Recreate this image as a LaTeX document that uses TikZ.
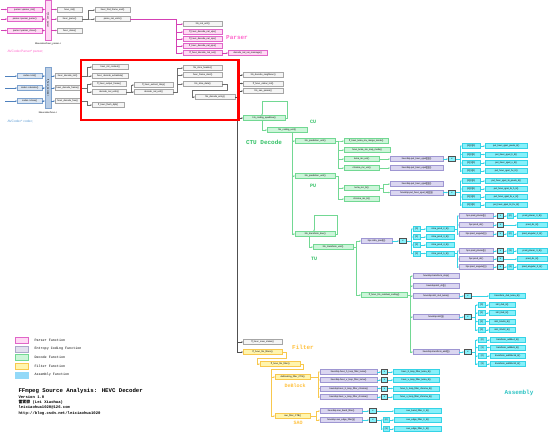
\documentclass[tikz,border=0pt]{standalone}
\usepackage{fontspec}
\setmainfont{Liberation Sans}
\newfontfamily\monof{Liberation Mono}
\newfontfamily\cjkf{Noto Sans CJK SC}
\usetikzlibrary{arrows.meta}
\definecolor{pkF}{HTML}{FFD9F4}
\definecolor{pkD}{HTML}{E066C8}
\definecolor{pkL}{HTML}{D440B4}
\definecolor{pkT}{HTML}{FF66CC}
\definecolor{gyF}{HTML}{F5F5F5}
\definecolor{gyD}{HTML}{A6A6A6}
\definecolor{gyL}{HTML}{6E6E6E}
\definecolor{blF}{HTML}{DCE6F2}
\definecolor{blD}{HTML}{7EA2CE}
\definecolor{blB}{HTML}{B9CDE5}
\definecolor{blL}{HTML}{4F81BD}
\definecolor{blT}{HTML}{5B9BD5}
\definecolor{gnF}{HTML}{CCF5D9}
\definecolor{gnD}{HTML}{72D893}
\definecolor{gnT}{HTML}{33C166}
\definecolor{puF}{HTML}{DAD6F0}
\definecolor{puD}{HTML}{9E96D2}
\definecolor{cyF}{HTML}{86F0FA}
\definecolor{cyD}{HTML}{35D3E6}
\definecolor{cyT}{HTML}{2EC4C4}
\definecolor{ylF}{HTML}{FFF5AE}
\definecolor{ylD}{HTML}{F8C84E}
\definecolor{ylT}{HTML}{FFC13D}
\definecolor{dkD}{HTML}{505050}
\definecolor{asF}{HTML}{93D9F8}
\definecolor{lvF}{HTML}{E2E0EE}
\definecolor{lvD}{HTML}{ABA7C9}
\newcommand\tinyf{\fontsize{2.3}{2.6}\selectfont}
\newcommand\Bx[6]{\node[#1,minimum width={(#4)-(#3)}] (#2) at (#3,#5) {#6};}
\newcommand\Bz[4]{\foreach \ch in {#4} \draw[#1] (#2.east) -- ++(#3,0) |- (\ch.west);}
\newcommand\Pz[2]{\foreach \xa/\xb in {#2} \draw[#1] (\xa.east) -- (\xb.west);}
\tikzset{
 bx/.style={draw,line width=0.35pt,minimum height=5,inner sep=0.2pt,font=\tinyf,anchor=west},
 pk/.style={bx,draw=pkD,fill=pkF},
 gy/.style={bx,draw=gyD,fill=gyF},
 bl/.style={bx,draw=blD,fill=blF},
 gn/.style={bx,draw=gnD,fill=gnF},
 pu/.style={bx,draw=puD,fill=puF},
 cy/.style={bx,draw=cyD,fill=cyF},
 yl/.style={bx,draw=ylD,fill=ylF},
 dk/.style={bx,draw=dkD,fill=cyF,line width=0.8pt},
 arw/.style={-{Stealth[length=1.6pt,width=1.5pt]}},
 pkA/.style={arw,draw=pkL,line width=0.45pt},
 gyA/.style={arw,draw=gyL,line width=0.45pt},
 blA/.style={arw,draw=blL,line width=0.45pt},
 gnA/.style={arw,draw=gnD,line width=0.5pt},
 gnN/.style={draw=gnD,line width=0.5pt},
 cyA/.style={arw,draw=cyD,line width=0.5pt},
 ylA/.style={arw,draw=ylD,line width=0.5pt},
 ylN/.style={draw=ylD,line width=0.5pt},
 bkA/.style={arw,draw=dkD,line width=0.9pt},
 lbl/.style={font=\monof\bfseries\fontsize{6}{7}\selectfont},
 leg/.style={anchor=west,font=\monof\fontsize{3.4}{4}\selectfont},
}
\begin{document}
\begin{tikzpicture}[x=1pt,y=-1pt]
\useasboundingbox (0,0) rectangle (554,432);
\fill[white] (0,0) rectangle (554,432);
% ---------------- Parser
\coordinate (i1) at (1,9.5); \coordinate (i2) at (1,19); \coordinate (i3) at (1,30.5);
\Bx{pk}{pI}{7}{42}{9.5}{parser->parser\_init()}
\Bx{pk}{pP}{7}{42}{19}{parser->parser\_parse()}
\Bx{pk}{pC}{7}{42}{30.5}{parser->parser\_close()}
\node[draw=pkD,fill=pkF,line width=0.35pt,minimum width=6,minimum height=40,inner sep=0] (pBar) at (48,20) {};
\node[font=\tinyf,rotate=-90] (pBarT) at (pBar) {ff\_hevc\_parser};
\Bx{gy}{hI}{57}{82}{9.5}{hevc\_init()}
\Bx{gy}{hP}{57}{82}{19}{hevc\_parse()}
\Bx{gy}{hC}{57}{82}{30.5}{hevc\_close()}
\Bx{gy}{hF}{95}{130}{10}{hevc\_find\_frame\_end()}
\Bx{gy}{pN}{95}{130}{19}{parse\_nal\_units()}
\Bx{gy}{hN}{183}{222}{24}{hls\_nal\_unit()}
\Bx{pk}{vps}{183}{222}{32}{ff\_hevc\_decode\_nal\_vps()}
\Bx{pk}{sps}{183}{222}{39}{ff\_hevc\_decode\_nal\_sps()}
\Bx{pk}{pps}{183}{222}{46}{ff\_hevc\_decode\_nal\_pps()}
\Bx{pk}{sei}{183}{222}{53}{ff\_hevc\_decode\_nal\_sei()}
\Bx{pk}{sm}{228}{267}{53}{decode\_nal\_sei\_message()}
\Pz{pkA}{i1/pI,i2/pP,i3/pC}
\foreach \xa in {pI,pP,pC} \draw[pkA] (\xa.east) -- (\xa.east -| pBar.west);
\foreach \xa in {hI,hP,hC} \draw[pkA] (\xa.west -| pBar.east) -- (\xa.west);
\Bz{gyA}{hP}{6}{hF,pN}
\Bz{pkA}{pN}{46}{hN,vps,sps,pps,sei}
\Pz{pkA}{sei/sm}
\node[lbl,text=pkT] (lP) at (237,38) {Parser};
\node[font=\tinyf] (pFile) at (48,44) {libavcodec/hevc\_parser.c};
\node[anchor=west,font=\fontsize{3.3}{4}\selectfont,text=pkT] (pVar) at (4,52) {AVCodecParser* parser;};
% ---------------- Decoder
\coordinate (j1) at (5,76); \coordinate (j2) at (5,88); \coordinate (j3) at (5,101);
\Bx{bl}{cI}{17}{42}{76}{codec->init()}
\Bx{bl}{cD}{17}{42}{88}{codec->decode()}
\Bx{bl}{cC}{17}{42}{101}{codec->close()}
\node[draw=blD,fill=blB,line width=0.35pt,minimum width=6,minimum height=41,inner sep=0] (dBar) at (48,87.5) {};
\node[font=\tinyf,rotate=-90] (dBarT) at (dBar) {ff\_hevc\_decoder};
\Bx{gy}{dI}{55}{80}{76}{hevc\_decode\_init()}
\Bx{gy}{dF}{55}{80}{88}{hevc\_decode\_frame()}
\Bx{gy}{dX}{55}{80}{101}{hevc\_decode\_free()}
\Bx{gy}{dIC}{92}{128}{67}{hevc\_init\_context()}
\Bx{gy}{dEX}{92}{128}{76}{hevc\_decode\_extradata()}
\Bx{gy}{dOF}{92}{126}{84}{ff\_hevc\_output\_frame()}
\Bx{gy}{dNS}{92}{126}{92}{decode\_nal\_units()}
\Bx{gy}{dFL}{92}{124}{105}{ff\_hevc\_flush\_dpb()}
\Bx{gy}{dER}{134}{173}{85}{ff\_hevc\_extract\_rbsp()}
\Bx{gy}{dNU}{134}{173}{92}{decode\_nal\_unit()}
\Bx{gy}{sH}{183}{222}{68}{hls\_slice\_header()}
\Bx{gy}{fS}{183}{222}{75}{hevc\_frame\_start()}
\Bx{gy}{sD}{183}{222}{84}{hls\_slice\_data()}
\Bx{gy}{dE}{195}{235}{97}{hls\_decode\_entry()}
\Bx{gy}{dN}{243}{283}{75}{hls\_decode\_neighbour()}
\Bx{gy}{cA}{243}{283}{83.5}{ff\_hevc\_cabac\_init()}
\Bx{gy}{sP}{243}{283}{91}{hls\_sao\_param()}
\Bx{gn}{cq}{243}{285}{118}{hls\_coding\_quadtree()}
\Bx{gy}{ss}{243}{282}{342}{ff\_hevc\_save\_states()}
\Bx{yl}{hf}{243}{282}{352}{ff\_hevc\_hls\_filters()}
\Pz{blA}{j1/cI,j2/cD,j3/cC}
\foreach \xa in {cI,cD,cC} \draw[blA] (\xa.east) -- (\xa.east -| dBar.west);
\foreach \xa in {dI,dF,dX} \draw[blA] (\xa.west -| dBar.east) -- (\xa.west);
\Bz{gyA}{dI}{7}{dIC,dEX}
\Bz{gyA}{dF}{7}{dOF,dNS}
\Bz{gyA}{dX}{7}{dFL}
\Bz{gyA}{dNS}{5}{dER,dNU}
\Bz{gyA}{dNU}{4}{sH,fS,sD}
\coordinate (sDb) at (192,90.5);
\draw[gyA] (sD.east) -- ++(5,0) |- (sDb) |- (dE.west);
\Bz{bkA}{dE}{2}{dN,cA,sP,cq,ss,hf}
\draw[red,line width=2.4pt] (81,60) rectangle (238.6,120);
\node[font=\tinyf] (dFile) at (48,113) {libavcodec/hevc.c};
\node[anchor=west,font=\fontsize{3.3}{4}\selectfont,text=blT] (dVar) at (4,122) {AVCodec* codec;};
% ---------------- CTU decode
\coordinate (cqL) at (262,101);
\draw[gnA] (cq.east) -- ++(2,0) |- (cqL) -- (cqL |- cq.north);
\Bx{gn}{cu}{267}{307}{130}{hls\_coding\_unit()}
\draw[gnA] (cqL |- cq.south) |- (cu.west);
\coordinate (cuR) at (292,132.5);
\Bx{gn}{pu1}{295}{335}{141}{hls\_prediction\_unit()}
\Bx{gn}{pu2}{295}{335}{176}{hls\_prediction\_unit()}
\Bx{gn}{tt}{295}{335}{234}{hls\_transform\_tree()}
\foreach \xa in {pu1,pu2,tt} \draw[gnA] (cuR) |- (\xa.west);
\node[lbl,text=gnT] (lCTU) at (264,142) {CTU Decode};
\node[lbl,text=gnT,font=\monof\bfseries\fontsize{5}{6}\selectfont] (lCU) at (313,122) {CU};
\node[lbl,text=gnT,font=\monof\bfseries\fontsize{5}{6}\selectfont] (lPU) at (313,186) {PU};
\node[lbl,text=gnT,font=\monof\bfseries\fontsize{5}{6}\selectfont] (lTU) at (314,259) {TU};
% PU 1
\Bx{gn}{mv1}{344}{388}{141}{ff\_hevc\_luma\_mv\_merge\_mode()}
\Bx{gn}{mv2}{344}{390}{150}{hevc\_luma\_mv\_mvp\_mode()}
\Bx{gn}{lu}{344}{379}{159}{luma\_mc\_uni()}
\Bx{gn}{cu2}{344}{379}{168}{chroma\_mc\_uni()}
\Bz{gnA}{pu1}{3}{mv1,mv2,lu,cu2}
\Bx{pu}{q1}{390}{443}{159}{hevcdsp.put\_hevc\_qpel[][][]()}
\Bx{pu}{e1}{390}{443}{168}{hevcdsp.put\_hevc\_epel[][][]()}
\Pz{gnA}{lu/q1,cu2/e1}
\Bx{dk}{k1}{448}{455}{159}{x}
\Pz{cyA}{q1/k1}
\Bx{cy}{a1}{462}{480}{146}{[0][0][0]}
\Bx{cy}{a2}{462}{480}{154.5}{[0][0][1]}
\Bx{cy}{a3}{462}{480}{163}{[0][1][0]}
\Bx{cy}{a4}{462}{480}{171}{[0][1][1]}
\Bx{cy}{b1}{485}{527}{146}{put\_hevc\_qpel\_pixels\_8()}
\Bx{cy}{b2}{485}{527}{154.5}{put\_hevc\_qpel\_h\_8()}
\Bx{cy}{b3}{485}{527}{163}{put\_hevc\_qpel\_v\_8()}
\Bx{cy}{b4}{485}{527}{171}{put\_hevc\_qpel\_hv\_8()}
\Bz{cyA}{k1}{4}{a1,a2,a3,a4}
\Pz{cyA}{a1/b1,a2/b2,a3/b3,a4/b4}
% PU 2
\Bx{gn}{lb}{344}{379}{188}{luma\_mc\_bi()}
\Bx{gn}{cb}{344}{379}{199}{chroma\_mc\_bi()}
\Bz{gnA}{pu2}{3}{lb,cb}
\Bx{pu}{q2}{390}{443}{184}{hevcdsp.put\_hevc\_qpel[][][]()}
\Bx{pu}{q3}{390}{443}{192.5}{hevcdsp.put\_hevc\_qpel\_bi[][][]()}
\Bz{gnA}{lb}{4}{q2,q3}
\Bx{dk}{k2}{448}{455}{192.5}{x}
\Pz{cyA}{q3/k2}
\Bx{cy}{a5}{462}{480}{181}{[0][0][0]}
\Bx{cy}{a6}{462}{480}{189}{[0][0][1]}
\Bx{cy}{a7}{462}{480}{197}{[0][1][0]}
\Bx{cy}{a8}{462}{480}{205}{[0][1][1]}
\Bx{cy}{b5}{485}{527}{181}{put\_hevc\_qpel\_bi\_pixels\_8()}
\Bx{cy}{b6}{485}{527}{189}{put\_hevc\_qpel\_bi\_h\_8()}
\Bx{cy}{b7}{485}{527}{197}{put\_hevc\_qpel\_bi\_v\_8()}
\Bx{cy}{b8}{485}{527}{205}{put\_hevc\_qpel\_bi\_hv\_8()}
\Bz{cyA}{k2}{4}{a5,a6,a7,a8}
\Pz{cyA}{a5/b5,a6/b6,a7/b7,a8/b8}
% TU
\coordinate (ttL) at (314,215);
\draw[gnA] (tt.east) -- ++(2,0) |- (ttL) -- (ttL |- tt.north);
\Bx{gn}{tu}{313}{353}{247}{hls\_transform\_unit()}
\coordinate (ttB) at (309,240);
\draw[gnA] (ttB |- tt.south) |- (tu.west);
\Bx{pu}{ip}{361}{392}{241}{hpc.intra\_pred[]()}
\Bx{gn}{rc}{361}{407}{295}{ff\_hevc\_hls\_residual\_coding()}
\Bz{gnA}{tu}{3}{ip,rc}
\Bx{dk}{k3}{399}{406}{241}{x}
\Pz{cyA}{ip/k3}
\Bx{cy}{c0}{413}{420}{229}{[0]}
\Bx{cy}{c1}{413}{420}{237}{[1]}
\Bx{cy}{c2}{413}{420}{245}{[2]}
\Bx{cy}{c3}{413}{420}{253.5}{[3]}
\Bx{cy}{ip2}{426}{454}{229}{intra\_pred\_2\_8()}
\Bx{cy}{ip3}{426}{454}{237}{intra\_pred\_3\_8()}
\Bx{cy}{ip4}{426}{454}{245}{intra\_pred\_4\_8()}
\Bx{cy}{ip5}{426}{454}{253.5}{intra\_pred\_5\_8()}
\Bz{cyA}{k3}{4}{c0,c1,c2,c3}
\Pz{cyA}{c0/ip2,c1/ip3,c2/ip4,c3/ip5}
% intra group 1
\Bx{pu}{pp1}{459}{493}{216}{hpc.pred\_planar[]()}
\Bx{pu}{pd1}{459}{493}{225}{hpc.pred\_dc()}
\Bx{pu}{pa1}{459}{493}{234}{hpc.pred\_angular[]()}
\Bz{cyA}{ip2}{2.5}{pp1,pd1,pa1}
\Bx{dk}{kp1}{497}{503}{216}{x}
\Bx{dk}{kd1}{497}{503}{225}{x}
\Bx{dk}{ka1}{497}{503}{234}{x}
\Bx{cy}{sp1}{507}{513}{216}{[0]}
\Bx{cy}{sa1}{507}{513}{234}{[0]}
\Bx{cy}{lp1}{517}{547}{216}{pred\_planar\_0\_8()}
\Bx{cy}{ld1}{517}{547}{225}{pred\_dc\_8()}
\Bx{cy}{la1}{517}{547}{234}{pred\_angular\_0\_8()}
\Pz{cyA}{pp1/kp1,pd1/kd1,pa1/ka1,kp1/sp1,ka1/sa1,sp1/lp1,kd1/ld1,sa1/la1}
% intra group 2
\Bx{pu}{pp2}{459}{493}{251}{hpc.pred\_planar[]()}
\Bx{pu}{pd2}{459}{493}{259}{hpc.pred\_dc()}
\Bx{pu}{pa2}{459}{493}{267}{hpc.pred\_angular[]()}
\Bz{cyA}{ip5}{2.5}{pp2,pd2,pa2}
\Bx{dk}{kp2}{497}{503}{251}{x}
\Bx{dk}{kd2}{497}{503}{259}{x}
\Bx{dk}{ka2}{497}{503}{267}{x}
\Bx{cy}{sp2}{507}{513}{251}{[3]}
\Bx{cy}{sa2}{507}{513}{267}{[3]}
\Bx{cy}{lp2}{517}{547}{251}{pred\_planar\_3\_8()}
\Bx{cy}{ld2}{517}{547}{259}{pred\_dc\_8()}
\Bx{cy}{la2}{517}{547}{267}{pred\_angular\_3\_8()}
\Pz{cyA}{pp2/kp2,pd2/kd2,pa2/ka2,kp2/sp2,ka2/sa2,sp2/lp2,kd2/ld2,sa2/la2}
% residual
\Bx{pu}{ts}{413}{459}{276}{hevcdsp.transform\_skip()}
\Bx{pu}{id}{413}{459}{286}{hevcdsp.idct\_dc[]()}
\Bx{pu}{i4}{413}{459}{296}{hevcdsp.idct\_4x4\_luma()}
\Bx{pu}{ic}{413}{459}{317}{hevcdsp.idct[]()}
\Bx{pu}{ta}{413}{459}{352}{hevcdsp.transform\_add[]()}
\Bz{gnA}{rc}{3}{ts,id,i4,ic,ta}
\Bx{dk}{k4}{464}{471}{296}{x}
\Bx{cy}{t4}{489}{525}{296}{transform\_4x4\_luma\_8()}
\Pz{cyA}{i4/k4,k4/t4}
\Bx{dk}{k5}{464}{471}{317}{x}
\Bx{cy}{d0}{478}{485}{305}{[0]}
\Bx{cy}{d1}{478}{485}{313}{[1]}
\Bx{cy}{d2}{478}{485}{321.5}{[2]}
\Bx{cy}{d3}{478}{485}{330}{[3]}
\Bx{cy}{e0}{489}{515}{305}{idct\_4x4\_8()}
\Bx{cy}{e1x}{489}{515}{313}{idct\_8x8\_8()}
\Bx{cy}{e2}{489}{515}{321.5}{idct\_16x16\_8()}
\Bx{cy}{e3}{489}{515}{330}{idct\_32x32\_8()}
\Pz{cyA}{ic/k5,d0/e0,d1/e1x,d2/e2,d3/e3}
\Bz{cyA}{k5}{3}{d0,d1,d2,d3}
\Bx{dk}{k6}{464}{471}{352}{x}
\Bx{cy}{f0}{478}{486}{340}{[0]}
\Bx{cy}{f1}{478}{486}{347.5}{[1]}
\Bx{cy}{f2}{478}{486}{356}{[2]}
\Bx{cy}{f3}{478}{486}{364}{[3]}
\Bx{cy}{g0}{490}{525}{340}{transform\_add4x4\_8()}
\Bx{cy}{g1}{490}{525}{347.5}{transform\_add8x8\_8()}
\Bx{cy}{g2}{490}{525}{356}{transform\_add16x16\_8()}
\Bx{cy}{g3}{490}{525}{364}{transform\_add32x32\_8()}
\Pz{cyA}{ta/k6,f0/g0,f1/g1,f2/g2,f3/g3}
\Bz{cyA}{k6}{3}{f0,f1,f2,f3}
% ---------------- Filter
\Bx{yl}{hl}{260}{300}{364}{ff\_hevc\_hls\_filter()}
\coordinate (hfB) at (257,358);
\draw[ylA] (hf.east) -- ++(4,0) |- (hfB) |- (hl.west);
\Bx{yl}{db}{275}{310}{377}{deblocking\_filter\_CTB()}
\Bx{yl}{sf}{275}{310}{416}{sao\_filter\_CTB()}
\coordinate (hlB) at (271,369);
\draw[ylN] (hl.east) -- ++(3,0) |- (hlB);
\foreach \xa in {db,sf} \draw[ylA] (hlB) |- (\xa.west);
\Bx{pu}{lf1}{320}{377}{372}{hevcdsp.hevc\_h\_loop\_filter\_luma()}
\Bx{pu}{lf2}{320}{377}{380}{hevcdsp.hevc\_v\_loop\_filter\_luma()}
\Bx{pu}{lf3}{320}{377}{388.5}{hevcdsp.hevc\_h\_loop\_filter\_chroma()}
\Bx{pu}{lf4}{320}{377}{397}{hevcdsp.hevc\_v\_loop\_filter\_chroma()}
\Bz{ylA}{db}{8}{lf1,lf2,lf3,lf4}
\Bx{dk}{m1}{381}{387}{372}{x}
\Bx{dk}{m2}{381}{387}{380}{x}
\Bx{dk}{m3}{381}{387}{388.5}{x}
\Bx{dk}{m4}{381}{387}{397}{x}
\Bx{cy}{n1}{393}{439}{372}{hevc\_h\_loop\_filter\_luma\_8()}
\Bx{cy}{n2}{393}{439}{380}{hevc\_v\_loop\_filter\_luma\_8()}
\Bx{cy}{n3}{393}{439}{388.5}{hevc\_h\_loop\_filter\_chroma\_8()}
\Bx{cy}{n4}{393}{439}{397}{hevc\_v\_loop\_filter\_chroma\_8()}
\Pz{cyA}{lf1/m1,lf2/m2,lf3/m3,lf4/m4,m1/n1,m2/n2,m3/n3,m4/n4}
\Bx{pu}{sb}{320}{362}{411}{hevcdsp.sao\_band\_filter()}
\Bx{pu}{se}{320}{362}{420}{hevcdsp.sao\_edge\_filter[]()}
\Bz{ylA}{sf}{6}{sb,se}
\Bx{dk}{m5}{369}{376}{411}{x}
\Bx{dk}{m6}{369}{376}{420}{x}
\Bx{cy}{sbl}{394}{441}{411}{sao\_band\_filter\_0\_8()}
\Bx{cy}{o0}{383}{389}{420}{[0]}
\Bx{cy}{o1}{383}{389}{429}{[1]}
\Bx{cy}{ol0}{394}{441}{420}{sao\_edge\_filter\_0\_8()}
\Bx{cy}{ol1}{394}{441}{429}{sao\_edge\_filter\_1\_8()}
\Pz{cyA}{sb/m5,se/m6,m5/sbl,o0/ol0,o1/ol1}
\Bz{cyA}{m6}{4}{o0,o1}
\node[lbl,text=ylT] (lF) at (303,347) {Filter};
\node[lbl,text=ylT,font=\monof\bfseries\fontsize{5}{6}\selectfont] (lDB) at (295,386) {DeBlock};
\node[lbl,text=ylT,font=\monof\bfseries\fontsize{5}{6}\selectfont] (lSAO) at (298,423) {SAO};
\node[lbl,text=cyT] (lAs) at (519,393) {Assembly};
% ---------------- Legend
\node[draw=pkD,fill=pkF,line width=0.5pt,minimum width=13,minimum height=6,inner sep=0,anchor=west] (L1) at (15,340) {};
\node[draw=lvD,fill=lvF,line width=0.5pt,minimum width=13,minimum height=6,inner sep=0,anchor=west] (L2) at (15,349) {};
\node[draw=gnD,fill=gnF,line width=0.5pt,minimum width=13,minimum height=6,inner sep=0,anchor=west] (L3) at (15,357.5) {};
\node[draw=ylD,fill=ylF,line width=0.5pt,minimum width=13,minimum height=6,inner sep=0,anchor=west] (L4) at (15,366) {};
\node[draw=asF,fill=asF,line width=0.5pt,minimum width=13,minimum height=6,inner sep=0,anchor=west] (L5) at (15,375) {};
\node[leg] (T1) at (31,340) {Parser Function};
\node[leg] (T2) at (31,349) {Entropy Coding Function};
\node[leg] (T3) at (31,357.5) {Decode Function};
\node[leg] (T4) at (31,366) {Filter Function};
\node[leg] (T5) at (31,375) {Assembly Function};
\node[anchor=west,font=\monof\bfseries\fontsize{5.7}{6}\selectfont] (tt1) at (15,391) {FFmpeg Source Analysis: HEVC Decoder};
\node[anchor=west,font=\monof\bfseries\fontsize{3.9}{4}\selectfont] (tt2) at (15,397) {Version 1.0};
\node[anchor=west,font=\monof\bfseries\fontsize{3.9}{4}\selectfont] (tt3) at (15,402.3) {{\cjkf 雷霄骅} (Lei Xiaohua)};
\node[anchor=west,font=\monof\bfseries\fontsize{3.9}{4}\selectfont] (tt4) at (15,407.6) {leixiaohua1020@126.com};
\node[anchor=west,font=\monof\bfseries\fontsize{3.9}{4}\selectfont] (tt5) at (15,413) {http://blog.csdn.net/leixiaohua1020};
\end{tikzpicture}
\end{document}
